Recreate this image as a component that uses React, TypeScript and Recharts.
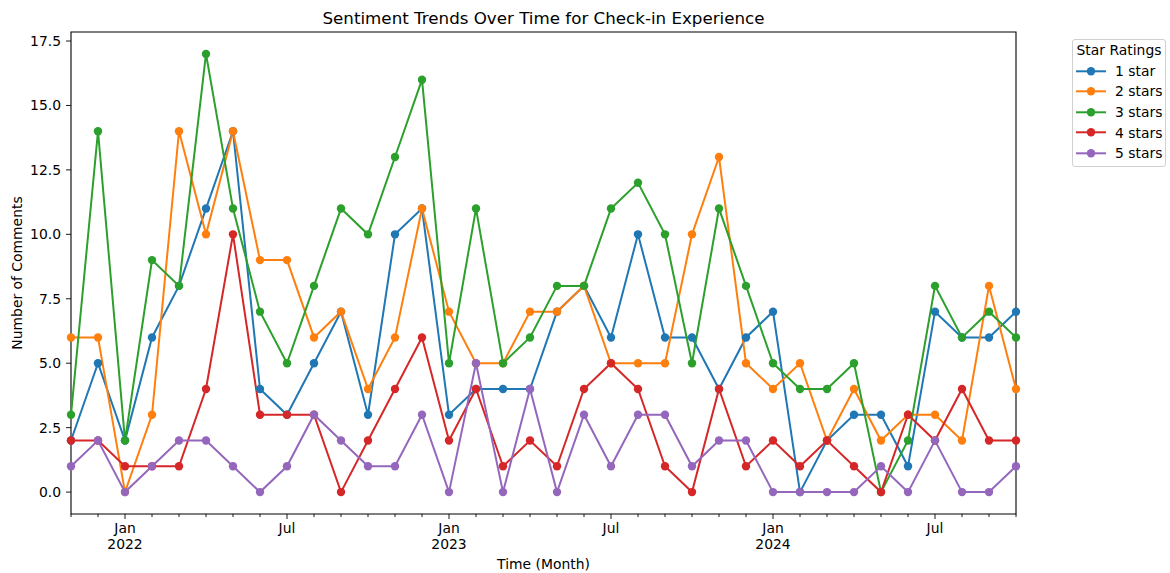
import React from "react";
import { LineChart, Line, XAxis, YAxis, ReferenceArea, Legend } from "recharts";

// monthly buckets, Nov 2021 .. Oct 2024
const months = [
  "2021-11", "2021-12",
  "2022-01", "2022-02", "2022-03", "2022-04", "2022-05", "2022-06",
  "2022-07", "2022-08", "2022-09", "2022-10", "2022-11", "2022-12",
  "2023-01", "2023-02", "2023-03", "2023-04", "2023-05", "2023-06",
  "2023-07", "2023-08", "2023-09", "2023-10", "2023-11", "2023-12",
  "2024-01", "2024-02", "2024-03", "2024-04", "2024-05", "2024-06",
  "2024-07", "2024-08", "2024-09", "2024-10",
];

const oneStar = [2, 5, 2, 6, 8, 11, 14, 4, 3, 5, 7, 3, 10, 11, 3, 4, 4, 4, 7, 8, 6, 10, 6, 6, 4, 6, 7, 0, 2, 3, 3, 1, 7, 6, 6, 7];
const twoStars = [6, 6, 0, 3, 14, 10, 14, 9, 9, 6, 7, 4, 6, 11, 7, 5, 5, 7, 7, 8, 5, 5, 5, 10, 13, 5, 4, 5, 2, 4, 2, 3, 3, 2, 8, 4];
const threeStars = [3, 14, 2, 9, 8, 17, 11, 7, 5, 8, 11, 10, 13, 16, 5, 11, 5, 6, 8, 8, 11, 12, 10, 5, 11, 8, 5, 4, 4, 5, 0, 2, 8, 6, 7, 6];
const fourStars = [2, 2, 1, 1, 1, 4, 10, 3, 3, 3, 0, 2, 4, 6, 2, 4, 1, 2, 1, 4, 5, 4, 1, 0, 4, 1, 2, 1, 2, 1, 0, 3, 2, 4, 2, 2];
const fiveStars = [1, 2, 0, 1, 2, 2, 1, 0, 1, 3, 2, 1, 1, 3, 0, 5, 0, 4, 0, 3, 1, 3, 3, 1, 2, 2, 0, 0, 0, 0, 1, 0, 2, 0, 0, 1];

const yTicks = [0, 2.5, 5, 7.5, 10, 12.5, 15, 17.5];
const monthNames = ["Jan", "Feb", "Mar", "Apr", "May", "Jun", "Jul", "Aug", "Sep", "Oct", "Nov", "Dec"];

const series = [
  { key: "s1", name: "1 star", color: "#1f77b4", values: oneStar },
  { key: "s2", name: "2 stars", color: "#ff7f0e", values: twoStars },
  { key: "s3", name: "3 stars", color: "#2ca02c", values: threeStars },
  { key: "s4", name: "4 stars", color: "#d62728", values: fourStars },
  { key: "s5", name: "5 stars", color: "#9467bd", values: fiveStars },
];

const rows = months.map((m, i) => {
  const row: Record<string, number | string> = { i, month: m };
  series.forEach((s) => (row[s.key] = s.values[i]));
  return row;
});

const FONT = "DejaVu Sans, sans-serif";
const FS = 13.9;
const Y_MIN = -0.85;
const Y_MAX = 17.85;

// minor tick every month, labelled major tick on Jan / Jul
function MonthTick(props: any) {
  const { x, y, payload } = props;
  const [yr, mo] = months[payload.value].split("-");
  const m = Number(mo) - 1;
  const major = m === 0 || m === 6;
  return (
    <g>
      <line x1={x} x2={x} y1={y} y2={y + (major ? 5 : 3)} stroke="#000" strokeWidth={0.9} />
      {major && (
        <text x={x} y={y + 19} textAnchor="middle" fontFamily={FONT} fontSize={FS} fill="#000">
          {monthNames[m]}
        </text>
      )}
      {m === 0 && (
        <text x={x} y={y + 35} textAnchor="middle" fontFamily={FONT} fontSize={FS} fill="#000">
          {yr}
        </text>
      )}
    </g>
  );
}

function LegendBox() {
  const rowH = 20.6;
  return (
    <div
      style={{
        boxSizing: "border-box",
        width: 94,
        height: 128,
        border: "1px solid #d0d0d0",
        borderRadius: 3,
        background: "rgba(255,255,255,0.8)",
        fontFamily: FONT,
        fontSize: FS,
        color: "#000",
      }}
    >
      <div style={{ height: rowH, lineHeight: `${rowH}px`, textAlign: "center" }}>Star Ratings</div>
      {series.map((s) => (
        <div key={s.key} style={{ height: rowH, display: "flex", alignItems: "center" }}>
          <svg width={40} height={rowH} style={{ marginLeft: 2 }}>
            <line x1={1} x2={31} y1={rowH / 2} y2={rowH / 2} stroke={s.color} strokeWidth={2} />
            <circle cx={16} cy={rowH / 2} r={4.2} fill={s.color} />
          </svg>
          <span style={{ whiteSpace: "nowrap" }}>{s.name}</span>
        </div>
      ))}
    </div>
  );
}

export default function App() {
  return (
    <div style={{ position: "absolute", left: 0, top: 0, width: 1170, height: 573, background: "#fff" }}>
      <div
        style={{
          position: "absolute",
          left: 71,
          top: 8,
          width: 945,
          textAlign: "center",
          fontFamily: FONT,
          fontSize: 16.7,
          lineHeight: "20px",
          color: "#000",
        }}
      >
        Sentiment Trends Over Time for Check-in Experience
      </div>
      <LineChart
        width={1170}
        height={573}
        data={rows}
        margin={{ top: 32, right: 154, bottom: 9, left: 11 }}
      >
        <XAxis
          dataKey="i"
          type="number"
          domain={[0, months.length - 1]}
          ticks={months.map((_, i) => i)}
          interval={0}
          tick={<MonthTick />}
          tickSize={0}
          tickMargin={0}
          tickLine={false}
          axisLine={false}
          height={50}
          label={(p: any) => {
            const vb = p.viewBox;
            return (
              <text
                x={vb.x + vb.width / 2}
                y={vb.y + 55}
                textAnchor="middle"
                fontFamily={FONT}
                fontSize={FS}
                fill="#000"
              >
                Time (Month)
              </text>
            );
          }}
        />
        <YAxis
          type="number"
          domain={[Y_MIN, Y_MAX]}
          ticks={yTicks}
          interval={0}
          tickFormatter={(v: number) => v.toFixed(1)}
          tick={{ fontFamily: FONT, fontSize: FS, fill: "#000" }}
          tickSize={5}
          tickMargin={5}
          tickLine={{ stroke: "#000", strokeWidth: 0.9 }}
          axisLine={false}
          width={60}
          label={(p: any) => {
            const vb = p.viewBox;
            const cx = vb.x + 6;
            const cy = vb.y + vb.height / 2;
            return (
              <text
                x={cx}
                y={cy}
                transform={`rotate(-90 ${cx} ${cy})`}
                textAnchor="middle"
                dominantBaseline="central"
                fontFamily={FONT}
                fontSize={FS}
                fill="#000"
              >
                Number of Comments
              </text>
            );
          }}
        />
        {series.map((s) => (
          <Line
            key={s.key}
            type="linear"
            dataKey={s.key}
            name={s.name}
            stroke={s.color}
            strokeWidth={2}
            dot={{ r: 4.2, fill: s.color, stroke: s.color, strokeWidth: 0 }}
            activeDot={false}
            isAnimationActive={false}
          />
        ))}
        <ReferenceArea
          x1={0}
          x2={months.length - 1}
          y1={Y_MIN}
          y2={Y_MAX}
          fill="none"
          fillOpacity={0}
          stroke="#000"
          strokeWidth={1.1}
          ifOverflow="visible"
        />
        <Legend
          layout="vertical"
          align="center"
          verticalAlign="middle"
          wrapperStyle={{ left: 1072, top: 39, width: 94, height: 128 }}
          content={() => <LegendBox />}
        />
      </LineChart>
    </div>
  );
}
